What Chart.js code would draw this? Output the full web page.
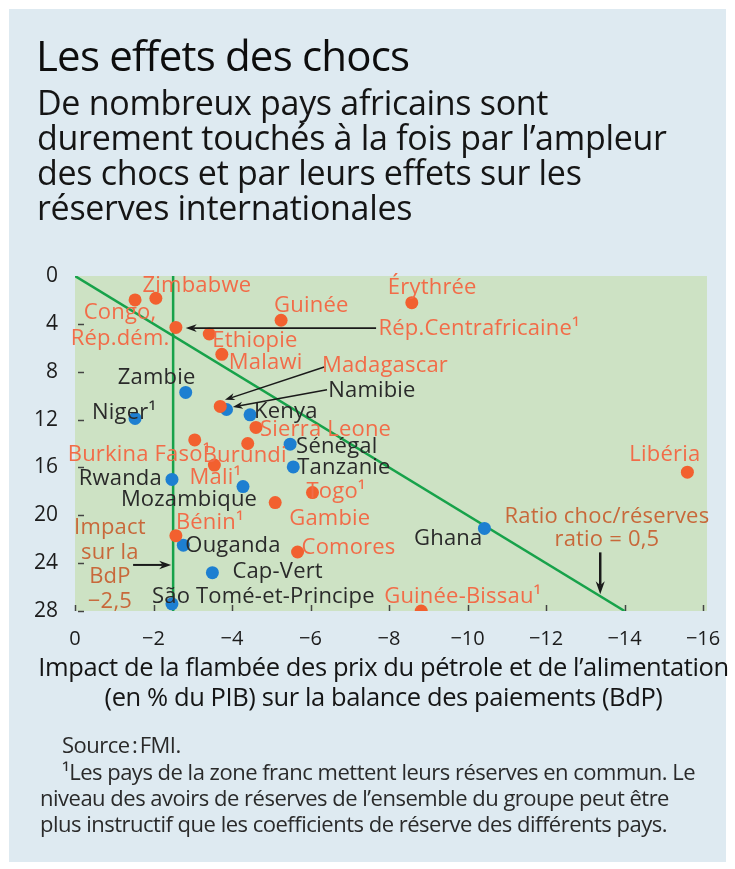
<!DOCTYPE html>
<html lang="fr">
<head>
<meta charset="utf-8">
<title>Les effets des chocs</title>
<script src="https://cdn.jsdelivr.net/npm/chart.js@4.4.1/dist/chart.umd.min.js"></script>
<style>
    body { margin: 0; background: #ffffff; font-family: "Open Sans", sans-serif; }
    #panel { position: absolute; left: 9px; top: 9px; width: 717px; height: 853px; background: #deeaf1; }
    #chart { position: absolute; left: 0; top: 0; }
    .txt { position: absolute; white-space: nowrap; color: #151515; }
    .title { font-size: 42px; letter-spacing: -0.8px; line-height: 48px; color: #0d0d0d; }
    .sub { font-size: 34px; letter-spacing: -0.3px; line-height: 35px; }
    .axis { font-size: 25.5px; letter-spacing: -0.4px; line-height: 30px; width: 735px; left: 0; text-align: center; }
    .note { font-size: 22px; letter-spacing: -0.5px; line-height: 26px; color: #2a2a2a; }
</style>
</head>
<body>
<div id="panel"></div>
<canvas id="chart" width="735" height="869"></canvas>

<div class="txt title" style="left:36px; top:31px;">Les effets des chocs</div>
<div class="txt sub" style="left:37px; top:85px;">De nombreux pays africains sont</div>
<div class="txt sub" style="left:37px; top:120px;">durement touchés à la fois par l’ampleur</div>
<div class="txt sub" style="left:37px; top:155px;">des chocs et par leurs effets sur les</div>
<div class="txt sub" style="left:37px; top:190px;">réserves internationales</div>

<div class="txt axis" style="top:651px; left:16px;">Impact de la flambée des prix du pétrole et de l’alimentation</div>
<div class="txt axis" style="top:681px; left:16px;">(en % du PIB) sur la balance des paiements (BdP)</div>

<div class="txt note" style="left:62px; top:731px;">Source&#8239;:&#8239;FMI.</div>
<div class="txt note" style="left:62px; top:758px;">¹Les pays de la zone franc mettent leurs réserves en commun. Le</div>
<div class="txt note" style="left:40px; top:784px;">niveau des avoirs de réserves de l’ensemble du groupe peut être</div>
<div class="txt note" style="left:40px; top:810px;">plus instructif que les coefficients de réserve des différents pays.</div>

<script>
// pays dont les points sont en orange
const orangeNames = ['Congo,\nRép.dém.', 'Zimbabwe', 'Rép.Centrafricaine¹', 'Ethiopie', 'Malawi', 'Guinée',
    'Érythrée', 'Madagascar', 'Sierra Leone', 'Burkina Faso¹', 'Burundi', 'Mali¹', 'Togo¹', 'Gambie',
    'Bénin¹', 'Comores', 'Guinée-Bissau¹', 'Libéria'];
const orangeX = [-1.53, -2.06, -2.57, -3.42, -3.74, -5.25, -8.58, -3.70, -4.61, -3.05, -4.40, -3.55, -6.05, -5.10,
    -2.57, -5.67, -8.82, -15.6];
const orangeY = [2.0, 1.86, 4.3, 4.85, 6.55, 3.7, 2.23, 10.9, 12.66, 13.7, 14.0, 15.8, 18.1, 18.94,
    21.7, 23.07, 28.0, 16.4];

// pays dont les points sont en bleu
const blueNames = ['Zambie', 'Niger¹', 'Namibie', 'Kenya', 'Sénégal', 'Tanzanie', 'Rwanda', 'Mozambique',
    'Ouganda', 'Cap-Vert', 'São Tomé-et-Principe', 'Ghana'];
const blueX = [-2.82, -1.53, -3.86, -4.46, -5.48, -5.56, -2.47, -4.28, -2.76, -3.50, -2.47, -10.43];
const blueY = [9.73, 11.9, 11.16, 11.6, 14.06, 15.96, 17.0, 17.6, 22.5, 24.8, 27.4, 21.1];

// lignes de référence
const ratioLineX = [0, -14];
const ratioLineY = [0, 28];
const impactLineX = [-2.5, -2.5];
const impactLineY = [0, 28];

const xTicks = [0, -2, -4, -6, -8, -10, -12, -14, -16];
const yTicks = [0, 4, 8, 12, 16, 20, 24, 28];

// placement des étiquettes (décalage en px par rapport au point, alignement)
const orangeLabelPos = [
    [-15, 13, 'center'], [41, -13, 'center'], null, [3, 7, 'left'], [7, 8, 'left'], [-7, -15, 'left'],
    [-24, -15, 'left'], null, [4, 2, 'left'], [-127, 15, 'left'], [-3, 12, 'center'], [1, 13, 'center'],
    [-6, -1, 'left'], [14, 16, 'left'], [0, -13, 'left'], [4, -4, 'left'], [-37, -14, 'left'], [13, -17, 'right']
];
const blueLabelPos = [
    [-29, -15, 'center'], [-43, -6, 'left'], null, [4, -3, 'left'], [6, 3, 'left'], [4, 1, 'left'],
    [-10, -1, 'right'], [-54, 13, 'center'], [2, 1, 'left'], [20, -1, 'left'], [-20, -7, 'left'], [-2, 10, 'right']
];

// étiquettes avec flèche (en unités des axes)
const arrowNotes = [
    { text: 'Rép.Centrafricaine¹', color: '#f26c48', from: [-7.67, 4.35], to: [-2.82, 4.35], textAt: [-7.73, 4.4], w: 1.8, head: 11 },
    { text: 'Madagascar', color: '#f26c48', from: [-6.35, 7.6], to: [-3.82, 10.35], textAt: [-6.29, 7.5], w: 1.5, head: 10 },
    { text: 'Namibie', color: '#2a2a2a', from: [-6.42, 9.5], to: [-4.02, 10.95], textAt: [-6.45, 9.55], w: 1.5, head: 10 },
    { text: null, from: [-1.48, 24.15], to: [-2.45, 24.15], w: 2, head: 12 },
    { text: null, from: [-13.38, 23.1], to: [-13.38, 26.6], w: 2.5, head: 13 }
];
const textNotes = [
    { lines: ['Impact', 'sur la', 'BdP', '−2,5'], at: [-0.89, 21.07], step: 2.05 },
    { lines: ['Ratio choc/réserves', 'ratio = 0,5'], at: [-13.55, 20.15], step: 1.92 }
];

const orange = '#f2602f';
const blue = '#1d7fd1';
const green = '#17a24a';

function drawArrow(ctx, x1, y1, x2, y2, w, head) {
    const ang = Math.atan2(y2 - y1, x2 - x1);
    ctx.save();
    ctx.strokeStyle = '#1a1a1a';
    ctx.fillStyle = '#1a1a1a';
    ctx.lineWidth = w;
    ctx.beginPath();
    ctx.moveTo(x1, y1);
    ctx.lineTo(x2 - Math.cos(ang) * head * 0.7, y2 - Math.sin(ang) * head * 0.7);
    ctx.stroke();
    ctx.beginPath();
    ctx.moveTo(x2, y2);
    ctx.lineTo(x2 - Math.cos(ang) * head - Math.sin(ang) * head * 0.35, y2 - Math.sin(ang) * head + Math.cos(ang) * head * 0.35);
    ctx.lineTo(x2 - Math.cos(ang) * head * 0.7, y2 - Math.sin(ang) * head * 0.7);
    ctx.lineTo(x2 - Math.cos(ang) * head + Math.sin(ang) * head * 0.35, y2 - Math.sin(ang) * head - Math.cos(ang) * head * 0.35);
    ctx.closePath();
    ctx.fill();
    ctx.restore();
}

function drawLabel(ctx, text, x, y, align, color) {
    ctx.fillStyle = color;
    ctx.textAlign = align;
    ctx.textBaseline = 'middle';
    const lines = text.split('\n');
    lines.forEach(function (line, i) {
        ctx.fillText(line, x, y + i * 26);
    });
}

const decorPlugin = {
    id: 'decor',
    beforeDatasetsDraw: function (chart) {
        const a = chart.chartArea;
        const ctx = chart.ctx;
        ctx.save();
        ctx.fillStyle = '#cde2c4';
        ctx.fillRect(a.left, a.top, a.right - a.left, a.bottom - a.top);
        // petites graduations à l'intérieur du cadre
        ctx.strokeStyle = '#444';
        ctx.lineWidth = 1.5;
        const xs = chart.scales.x;
        const ys = chart.scales.y;
        xTicks.forEach(function (v) {
            const px = Math.round(xs.getPixelForValue(v)) + 0.5;
            ctx.beginPath();
            ctx.moveTo(px, a.bottom - 6);
            ctx.lineTo(px, a.bottom);
            ctx.stroke();
        });
        yTicks.forEach(function (v) {
            if (v === 0) return;
            const py = Math.round(ys.getPixelForValue(v)) + 0.5;
            ctx.beginPath();
            ctx.moveTo(a.left + 3, py);
            ctx.lineTo(a.left + 9, py);
            ctx.stroke();
        });
        ctx.restore();
    },
    afterDatasetsDraw: function (chart) {
        const ctx = chart.ctx;
        const xs = chart.scales.x;
        const ys = chart.scales.y;
        ctx.save();
        ctx.font = '22px "Open Sans"';
        ctx.letterSpacing = '0.2px';

        orangeNames.forEach(function (name, i) {
            const p = orangeLabelPos[i];
            if (!p) return;
            drawLabel(ctx, name, xs.getPixelForValue(orangeX[i]) + p[0], ys.getPixelForValue(orangeY[i]) + p[1], p[2], '#f26c48');
        });
        blueNames.forEach(function (name, i) {
            const p = blueLabelPos[i];
            if (!p) return;
            drawLabel(ctx, name, xs.getPixelForValue(blueX[i]) + p[0], ys.getPixelForValue(blueY[i]) + p[1], p[2], '#2a2a2a');
        });

        arrowNotes.forEach(function (n) {
            drawArrow(ctx, xs.getPixelForValue(n.from[0]), ys.getPixelForValue(n.from[1]),
                xs.getPixelForValue(n.to[0]), ys.getPixelForValue(n.to[1]), n.w, n.head);
            if (n.text) {
                drawLabel(ctx, n.text, xs.getPixelForValue(n.textAt[0]), ys.getPixelForValue(n.textAt[1]), 'left', n.color);
            }
        });

        textNotes.forEach(function (n) {
            n.lines.forEach(function (line, i) {
                drawLabel(ctx, line, xs.getPixelForValue(n.at[0]), ys.getPixelForValue(n.at[1] + i * n.step), 'center', '#c8683a');
            });
        });
        ctx.restore();
    }
};

const ctx = document.getElementById('chart').getContext('2d');

new Chart(ctx, {
    type: 'scatter',
    data: {
        datasets: [{
            label: 'orange',
            data: orangeX.map(function (x, i) { return { x: x, y: orangeY[i] }; }),
            backgroundColor: orange,
            borderWidth: 0,
            pointRadius: 6.5
        }, {
            label: 'bleu',
            data: blueX.map(function (x, i) { return { x: x, y: blueY[i] }; }),
            backgroundColor: blue,
            borderWidth: 0,
            pointRadius: 6.5
        }, {
            label: 'ratio',
            data: ratioLineX.map(function (x, i) { return { x: x, y: ratioLineY[i] }; }),
            showLine: true,
            borderColor: green,
            borderWidth: 2.5,
            pointRadius: 0
        }, {
            label: 'impact',
            data: impactLineX.map(function (x, i) { return { x: x, y: impactLineY[i] }; }),
            showLine: true,
            borderColor: green,
            borderWidth: 2.5,
            pointRadius: 0
        }]
    },
    options: {
        responsive: false,
        animation: false,
        layout: {
            padding: { left: 0, top: 276, right: 28, bottom: 218 }
        },
        plugins: {
            legend: { display: false },
            tooltip: { enabled: false }
        },
        scales: {
            x: {
                type: 'linear',
                min: -16.1,
                max: 0,
                reverse: true,
                border: { display: false },
                grid: { display: false },
                afterBuildTicks: function (scale) {
                    scale.ticks = xTicks.map(function (v) { return { value: v }; });
                },
                afterFit: function (scale) { scale.height = 40; },
                ticks: {
                    padding: 8,
                    color: '#1c1c1c',
                    font: { family: 'Open Sans', size: 20 },
                    callback: function (v) { return v === 0 ? '0' : '−' + Math.abs(v); }
                }
            },
            y: {
                type: 'linear',
                min: 0,
                max: 28,
                reverse: true,
                border: { display: false },
                grid: { display: false },
                afterBuildTicks: function (scale) {
                    scale.ticks = yTicks.map(function (v) { return { value: v }; });
                },
                afterFit: function (scale) { scale.width = 75; },
                ticks: {
                    padding: 9,
                    color: '#1c1c1c',
                    font: { family: 'Open Sans', size: 21 }
                }
            }
        }
    },
    plugins: [decorPlugin]
});
</script>
</body>
</html>
